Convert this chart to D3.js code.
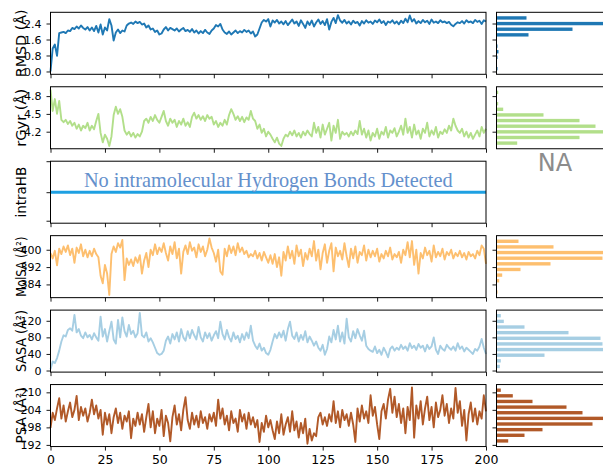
<!DOCTYPE html>
<html><head><meta charset="utf-8">
<script src="https://cdn.jsdelivr.net/npm/d3@7"></script>
<style>body{margin:0;background:#fff;} svg{display:block;}</style>
</head><body><svg id="c" width="603" height="468"></svg>
<script>
// ---------------- DATA ----------------
const timeNs = d3.range(0, 201);            // frame time in ns (0..200, 1 ns steps)
const xTicks = [0, 25, 50, 75, 100, 125, 150, 175, 200];

const rmsd = [0.00,1.15,1.35,0.78,1.92,1.95,1.98,1.92,2.05,2.02,2.18,2.12,2.25,2.15,2.30,2.18,2.10,2.22,2.05,2.20,
2.02,2.28,1.95,2.35,1.85,2.20,2.05,2.62,2.30,1.55,1.95,2.10,1.92,2.05,2.00,2.30,2.40,2.45,2.38,2.50,
2.42,2.48,2.35,2.40,2.20,2.30,2.10,2.15,1.98,2.05,1.85,1.90,2.10,2.22,2.05,2.18,2.12,2.05,2.15,2.00,
2.10,2.18,2.02,2.08,1.98,2.12,1.95,2.05,1.90,2.02,1.92,2.08,1.95,1.88,2.05,2.15,2.32,2.25,2.38,2.10,
1.95,1.88,2.00,1.85,1.95,2.05,1.92,2.02,1.95,2.08,1.98,2.05,1.90,2.00,1.75,1.85,2.15,2.45,2.58,2.50,
2.62,2.25,2.55,2.45,2.58,2.40,2.50,2.36,2.52,2.32,2.46,2.60,2.40,2.50,2.28,2.56,2.38,2.18,2.50,2.33,
2.55,2.25,2.45,2.60,2.38,2.52,2.32,2.62,2.10,2.48,2.68,2.42,2.82,2.55,2.44,2.58,2.40,2.50,2.35,2.54,
2.42,2.48,2.30,2.52,2.40,2.56,2.44,2.50,2.38,2.55,2.46,2.60,2.42,2.52,2.33,2.50,2.44,2.56,2.40,2.50,
2.36,2.54,2.42,2.64,2.46,2.80,2.50,2.62,2.40,2.52,2.42,2.58,2.46,2.54,2.38,2.60,2.44,2.50,2.42,2.56,
2.46,2.50,2.42,2.48,2.34,2.26,2.38,2.46,2.42,2.52,2.40,2.56,2.46,2.50,2.42,2.58,2.48,2.54,2.38,2.56,2.50];

const rgyr = [4.91,4.55,4.75,4.50,4.72,4.40,4.36,4.40,4.33,4.38,4.30,4.35,4.25,4.32,4.22,4.30,4.26,4.35,4.22,4.30,
4.24,4.38,4.50,4.18,4.02,4.15,4.08,3.96,4.12,4.48,4.62,4.50,4.58,4.45,4.22,4.15,4.20,4.12,4.18,4.10,
4.16,4.12,4.20,4.38,4.42,4.35,4.45,4.38,4.48,4.40,4.35,4.45,4.55,4.38,4.30,4.42,4.35,4.40,4.28,4.38,
4.32,4.42,4.30,4.36,4.28,4.45,4.52,4.42,4.48,4.40,4.46,4.38,4.48,4.42,4.45,4.32,4.38,4.28,4.35,4.30,
4.40,4.32,4.48,4.58,4.50,4.40,4.46,4.38,4.45,4.36,4.44,4.40,4.55,4.42,4.38,4.25,4.32,4.18,4.25,4.12,
4.20,4.15,4.08,4.02,4.10,4.00,3.96,4.08,4.15,4.12,4.20,4.14,4.22,4.12,4.18,4.10,4.20,4.14,4.22,4.16,
4.12,4.35,4.18,4.28,4.10,4.32,4.15,4.25,4.35,4.05,4.30,4.18,4.40,4.08,4.20,4.15,4.18,4.12,4.20,4.14,
4.22,4.16,4.38,4.15,4.25,4.10,4.22,4.05,4.18,4.12,4.25,4.08,4.20,4.15,4.28,4.10,4.22,4.18,4.26,4.12,
4.20,4.30,4.15,4.42,4.18,4.28,4.10,4.32,4.15,4.22,4.08,4.25,4.18,4.35,4.12,4.22,4.15,4.28,4.10,4.20,
4.16,4.24,4.18,4.30,4.22,4.42,4.30,4.22,4.18,4.25,4.12,4.20,4.10,4.18,4.08,4.15,4.22,4.12,4.28,4.18,4.25];

const intraHB = new Array(201).fill(0);     // no intramolecular H-bonds in any frame

const molsa = [398.5,396.0,399.5,392.8,400.5,398.0,401.5,399.0,402.0,397.5,400.5,394.0,401.0,398.5,402.5,397.0,400.0,396.5,399.5,397.0,
400.5,398.0,396.5,388.0,384.5,393.0,389.0,379.2,398.0,401.5,399.0,403.0,401.0,404.5,386.0,396.0,393.0,395.5,392.5,396.5,
394.0,397.5,389.0,395.0,398.5,392.0,400.0,397.5,402.5,398.0,401.0,399.0,403.0,398.5,395.0,401.5,398.0,403.5,396.0,400.5,
389.0,399.0,402.0,398.0,403.5,399.5,401.0,396.5,402.5,399.0,401.5,397.0,400.0,405.2,401.0,398.5,394.5,400.0,390.0,388.5,
400.5,397.0,402.0,398.5,401.5,397.5,403.0,399.0,401.0,398.0,399.5,396.5,398.0,397.0,399.5,396.0,398.5,395.0,399.0,396.5,
394.0,397.5,393.5,398.0,392.0,396.5,388.0,399.0,395.0,401.5,396.0,399.5,393.5,402.0,397.0,400.0,392.5,398.5,395.5,400.5,
397.0,404.0,395.0,400.0,391.0,398.5,402.5,394.0,399.5,403.0,390.0,401.0,397.0,399.5,395.5,403.0,397.0,392.0,400.5,396.0,
401.5,394.0,399.0,397.5,402.0,395.0,400.0,396.5,399.5,397.0,400.5,394.5,398.0,396.0,399.5,397.0,401.0,395.5,398.0,396.5,
399.0,394.0,400.0,397.5,403.5,396.5,404.0,393.0,400.0,389.0,398.5,396.0,401.0,397.5,399.5,394.5,402.0,396.5,399.0,397.0,
400.5,395.5,399.0,397.5,400.0,396.0,398.5,397.0,399.5,396.5,398.5,395.5,399.0,397.0,398.0,396.0,399.5,397.5,402.0,400.5,393.5];

const sasa = [3,22,18,30,48,70,85,82,98,102,96,134,92,100,84,78,92,80,86,75,
90,80,72,130,82,100,70,95,118,75,65,122,80,128,95,82,110,88,96,80,
90,139,85,80,92,70,78,68,55,42,38,40,48,72,82,65,88,75,92,70,
100,80,72,95,78,98,85,75,105,80,70,92,78,90,72,85,95,78,118,88,
75,98,80,70,92,76,84,68,88,74,92,78,108,72,60,52,65,48,55,42,
38,50,70,88,78,92,80,96,72,100,118,84,76,92,70,86,74,95,68,82,
72,60,70,55,48,62,38,52,82,68,98,75,108,70,92,65,125,80,70,95,
78,100,85,72,96,60,52,48,45,58,42,50,38,55,45,32,52,58,48,55,
50,62,52,58,48,66,54,60,50,64,55,60,46,62,52,58,80,50,40,60,
52,48,62,55,50,58,48,66,52,58,46,55,50,45,40,52,48,58,76,55,40];

const psa = [197.8,203.0,200.5,204.5,208.0,201.0,205.5,200.0,203.5,206.5,201.5,204.0,208.8,200.5,205.0,202.0,204.5,200.0,203.0,207.5,
202.5,205.5,201.0,204.0,195.5,203.0,199.0,202.5,196.0,201.5,204.5,199.5,203.0,197.5,202.0,200.0,203.5,194.3,201.0,198.5,
203.0,199.0,202.5,196.5,201.5,206.0,198.0,203.5,196.0,201.0,198.5,204.0,195.0,202.0,199.5,193.2,201.5,205.5,199.0,202.5,
197.0,204.0,208.3,200.5,197.5,203.0,199.0,202.0,198.0,203.5,199.5,201.5,197.5,202.5,200.0,203.0,198.5,207.5,201.0,204.5,
199.0,202.0,197.0,203.5,199.5,201.0,196.5,204.0,200.0,202.5,197.5,203.0,199.0,201.5,198.0,200.5,193.0,199.5,196.5,202.0,
198.0,200.5,197.0,194.0,200.0,196.0,202.5,195.5,199.0,201.5,196.5,203.5,197.0,200.0,194.5,199.5,196.0,201.0,192.4,197.5,
193.5,196.0,195.0,201.5,203.0,199.0,201.5,198.5,202.5,200.0,207.0,199.5,203.5,198.0,204.0,200.5,202.5,198.5,203.0,199.0,
193.0,204.5,200.0,205.5,201.0,203.5,199.5,209.0,202.0,205.0,199.0,194.0,203.5,206.0,201.0,207.5,211.2,203.0,208.5,201.5,
206.0,199.5,204.5,196.0,205.0,200.5,211.7,194.5,205.5,201.0,207.0,199.0,204.5,208.5,200.5,205.0,198.0,206.5,201.5,204.0,
209.0,202.0,206.0,199.5,204.5,201.0,211.5,203.0,207.0,198.5,204.0,193.5,202.5,206.5,200.0,204.5,199.0,203.5,201.0,209.0,203.5];

// y tick values per panel
const rmsdTicks  = [0, 0.8, 1.6, 2.4];
const rgyrTicks  = [4.2, 4.5, 4.8];
const hbTicks    = [-0.046, 0, 0.05];
const molsaTicks = [384, 392, 400];
const sasaTicks  = [0, 40, 80, 120];
const psaTicks   = [192, 198, 204, 210];

// histogram counts (10 equal bins from series min to max, lowest bin first)
const rmsdHist  = [1, 0, 1, 2, 1, 0, 32, 76, 140, 30];
const rgyrHist  = [20.7, 83, 125, 99, 83, 47, 6.7, 1.7, 0, 1.7];
const molsaHist = [1, 0, 2.7, 5.7, 24, 54, 106, 118, 57, 22];
const sasaHist  = [3.3, 4.3, 48, 112, 106, 104, 72, 28, 7.3, 4.3];
const psaHist   = [11.7, 28, 46, 96, 112, 86, 70, 36, 16.3, 4.3];

const yLabels = ["RMSD (Å)", "rGyr (Å)", "intraHB", "MolSA (Å²)", "SASA (Å²)", "PSA (Å²)"];
const noHBText = "No intramolecular Hydrogen Bonds Detected";
const naText = "NA";

// ---------------- LAYOUT / STYLE ----------------
const panels = [
  {values: rmsd,  ticks: rmsdTicks,  fmt: ".1f", color: "#1f78b4", hist: rmsdHist,  labLen: 68},
  {values: rgyr,  ticks: rgyrTicks,  fmt: ".1f", color: "#b2df8a", hist: rgyrHist,  labLen: 58},
  {values: intraHB, ticks: hbTicks,  fmt: null,  color: "#1ea0e2", hist: null, isHB: true, labLen: null},
  {values: molsa, ticks: molsaTicks, fmt: "d",   color: "#fdbf6f", hist: molsaHist, labLen: 60},
  {values: sasa,  ticks: sasaTicks,  fmt: "d",   color: "#a6cee3", hist: sasaHist,  labLen: 62},
  {values: psa,   ticks: psaTicks,   fmt: "d",   color: "#b15928", hist: psaHist,   labLen: 56}
];

const mainL = 50.5, mainR = 486, histL = 496.5, histR = 640;
const top0 = 12.3, step = 74.45, ph = 62;
const FONT = "DejaVu Sans";

const svg = d3.select("#c");
svg.append("rect").attr("width", 603).attr("height", 468).attr("fill", "#fff");
const x = d3.scaleLinear().domain([0, 200]).range([mainL, mainR]);
const hx = d3.scaleLinear().domain([0, histR - histL]).range([histL, histR]);

function styleAxis(s, fs) {
  s.select(".domain").remove();
  s.selectAll(".tick line").attr("stroke", "#000").attr("stroke-width", 0.9);
  s.selectAll("text").attr("font-family", FONT).attr("font-size", fs).attr("fill", "#000");
}

panels.forEach((p, i) => {
  const top = top0 + i * step, bot = top + ph;
  let y;
  if (p.isHB) {
    y = d3.scaleLinear().domain([-0.05, 0.05]).range([bot, top]);
  } else {
    const [mn, mx] = d3.extent(p.values);
    const pad = (mx - mn) * 0.05;
    y = d3.scaleLinear().domain([mn - pad, mx + pad]).range([bot, top]);
  }
  const g = svg.append("g");

  // series line
  g.append("path").datum(p.values)
    .attr("d", d3.line().x((d, j) => x(timeNs[j])).y(d => y(d)))
    .attr("fill", "none").attr("stroke", p.color)
    .attr("stroke-width", p.isHB ? 3 : 1.9)
    .attr("stroke-linejoin", "round");

  // frame
  g.append("rect").attr("x", mainL).attr("y", top).attr("width", mainR - mainL).attr("height", ph)
    .attr("fill", "none").attr("stroke", "#000").attr("stroke-width", 1);

  // y axis
  g.append("g").attr("transform", `translate(${mainL},0)`)
    .call(d3.axisLeft(y).tickValues(p.ticks).tickSize(4).tickPadding(5)
      .tickFormat(p.isHB ? () => "" : d3.format(p.fmt)))
    .call(s => styleAxis(s, 11));

  // x axis
  g.append("g").attr("transform", `translate(0,${bot})`)
    .call(d3.axisBottom(x).tickValues(xTicks).tickSize(4).tickPadding(4.5)
      .tickFormat(i === panels.length - 1 ? d3.format("d") : () => ""))
    .call(s => styleAxis(s, 12.5));

  // y label
  const lab = g.append("text")
    .attr("transform", `translate(21,${top + ph / 2}) rotate(-90)`)
    .attr("text-anchor", "middle").attr("dominant-baseline", "central")
    .attr("font-family", FONT).attr("font-size", 13.5).attr("fill", "#000")
    .text(yLabels[i]);
  if (p.labLen) lab.attr("textLength", p.labLen).attr("lengthAdjust", "spacingAndGlyphs");

  if (p.isHB) {
    const t = g.append("text")
      .attr("x", (mainL + mainR) / 2).attr("y", 187)
      .attr("text-anchor", "middle")
      .attr("font-family", "Liberation Serif").attr("font-size", 20)
      .attr("fill", "#6490cc").text(noHBText);
    const w = t.node().getComputedTextLength();
    t.attr("font-size", 20 * 369 / w);
    g.append("text").attr("x", 555).attr("y", 171).attr("text-anchor", "middle")
      .attr("font-family", FONT).attr("font-size", 24).attr("fill", "#8c8c8c").text(naText);
  } else {
    // histogram panel
    const hg = svg.append("g");
    const [mn, mx] = d3.extent(p.values);
    const n = p.hist.length, bw = (mx - mn) / n;
    hg.selectAll("rect.bar").data(p.hist).join("rect").attr("class", "bar")
      .attr("x", hx(0))
      .attr("y", (d, k) => {
        const y0 = y(mn + (k + 1) * bw), y1 = y(mn + k * bw);
        return y0 + (y1 - y0) * 0.2;
      })
      .attr("height", (d, k) => (y(mn + k * bw) - y(mn + (k + 1) * bw)) * 0.6)
      .attr("width", d => hx(d) - hx(0))
      .attr("fill", p.color);
    hg.append("rect").attr("x", histL).attr("y", top).attr("width", histR - histL).attr("height", ph)
      .attr("fill", "none").attr("stroke", "#000").attr("stroke-width", 1);
    hg.append("g").attr("transform", `translate(${histL},0)`)
      .call(d3.axisLeft(y).tickValues(p.ticks).tickSize(4).tickFormat(() => ""))
      .call(s => styleAxis(s, 11));
  }
});
</script>
</body></html>
